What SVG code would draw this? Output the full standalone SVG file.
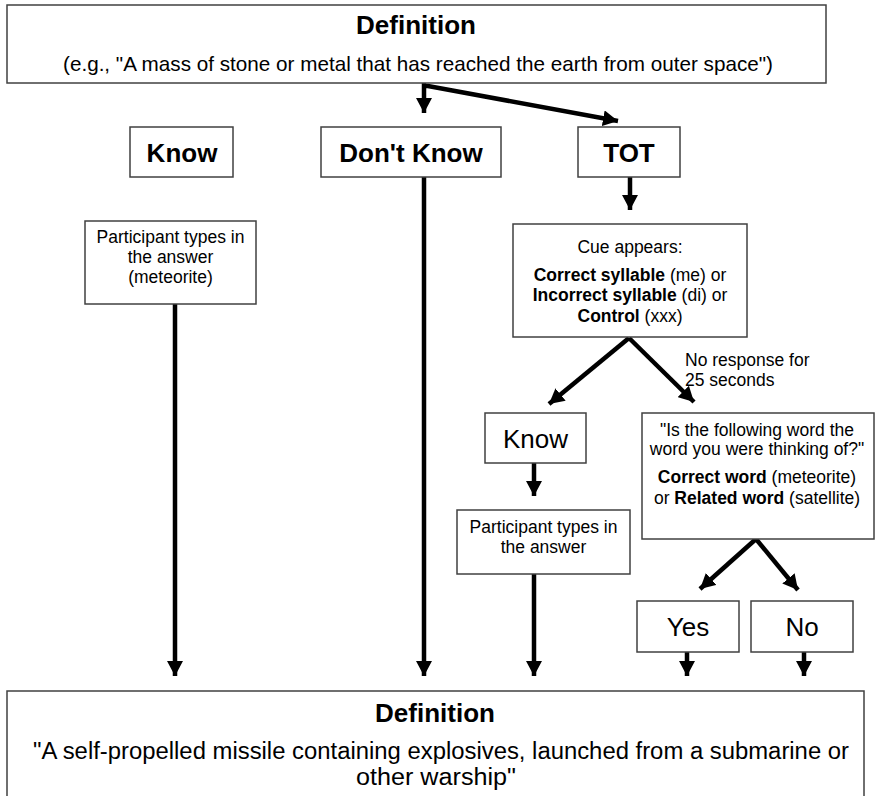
<svg xmlns="http://www.w3.org/2000/svg" width="876" height="796" viewBox="0 0 876 796">
<style>
.box{fill:#fff;stroke:#404040;stroke-width:1.5}
.t{font-family:"Liberation Sans",Arial,sans-serif;fill:#000;text-anchor:middle}
.h{font-size:26px;font-weight:bold}
.m{font-size:26px}
.s{font-size:17.5px}
.l{font-size:20.6px}
.xl{font-size:23px}
.b{font-weight:bold}
.c{stroke:#000;stroke-width:4.5;fill:none}
</style>
<defs>
<marker id="ah" markerUnits="userSpaceOnUse" markerWidth="16" markerHeight="16" viewBox="0 0 16 16" refX="15" refY="8" orient="auto">
<path d="M0,0 L15,8 L0,16 Z" fill="#000"/>
</marker>
</defs>
<rect width="876" height="796" fill="#fff"/>
<g id="connectors">
<path class="c" d="M424,83 V113" marker-end="url(#ah)"/>
<path class="c" d="M424,86 H428 L618,121" marker-end="url(#ah)"/>
<path class="c" d="M630,177 V210" marker-end="url(#ah)"/>
<path class="c" d="M175,304 V676" marker-end="url(#ah)"/>
<path class="c" d="M424,177 V676" marker-end="url(#ah)"/>
<path class="c" d="M629,338 L549,404" marker-end="url(#ah)"/>
<path class="c" d="M629,338 L694,402" marker-end="url(#ah)"/>
<path class="c" d="M534,463 V496" marker-end="url(#ah)"/>
<path class="c" d="M534,574 V676" marker-end="url(#ah)"/>
<path class="c" d="M756,539 L700,589" marker-end="url(#ah)"/>
<path class="c" d="M756,539 L798,590" marker-end="url(#ah)"/>
<path class="c" d="M687,652 V676" marker-end="url(#ah)"/>
<path class="c" d="M804,652 V676" marker-end="url(#ah)"/>
</g>
<g id="def-top">
<rect class="box" x="7" y="5" width="819" height="78"/>
<text class="t h" x="416" y="34">Definition</text>
<text class="t l" x="418" y="71" textLength="710" lengthAdjust="spacingAndGlyphs">(e.g., "A mass of stone or metal that has reached the earth from outer space")</text>
</g>
<g id="know">
<rect class="box" x="130" y="127" width="103" height="50"/>
<text class="t h" x="182" y="162">Know</text>
</g>
<g id="dontknow">
<rect class="box" x="321" y="127" width="180" height="50"/>
<text class="t h" x="411" y="162">Don't Know</text>
</g>
<g id="tot">
<rect class="box" x="578" y="127" width="102" height="50"/>
<text class="t h" x="629" y="162">TOT</text>
</g>
<g id="participant1">
<rect class="box" x="85" y="221" width="171" height="83"/>
<text class="t s" x="170.5" y="243">Participant types in</text>
<text class="t s" x="170.5" y="263">the answer</text>
<text class="t s" x="170.5" y="283">(meteorite)</text>
</g>
<g id="cue">
<rect class="box" x="513" y="224" width="234" height="113"/>
<text class="t s" x="630" y="253">Cue appears:</text>
<text class="t s" x="630" y="281"><tspan class="b">Correct syllable</tspan> (me) or</text>
<text class="t s" x="630" y="301"><tspan class="b">Incorrect syllable</tspan> (di) or</text>
<text class="t s" x="630" y="322"><tspan class="b">Control</tspan> (xxx)</text>
</g>
<g id="noresponse-label">
<text class="t s" x="685" y="366" style="text-anchor:start">No response for</text>
<text class="t s" x="685" y="386" style="text-anchor:start">25 seconds</text>
</g>
<g id="know2">
<rect class="box" x="485" y="413" width="101" height="50"/>
<text class="t m" x="535.5" y="448">Know</text>
</g>
<g id="question">
<rect class="box" x="642" y="413" width="232" height="126"/>
<text class="t s" x="757" y="436">"Is the following word the</text>
<text class="t s" x="757" y="455">word you were thinking of?"</text>
<text class="t s" x="757" y="483"><tspan class="b">Correct word</tspan> (meteorite)</text>
<text class="t s" x="757" y="504">or <tspan class="b">Related word</tspan> (satellite)</text>
</g>
<g id="participant2">
<rect class="box" x="457" y="510" width="173" height="64"/>
<text class="t s" x="543.5" y="533">Participant types in</text>
<text class="t s" x="543.5" y="553">the answer</text>
</g>
<g id="yes">
<rect class="box" x="637" y="601" width="102" height="51"/>
<text class="t m" x="688" y="636">Yes</text>
</g>
<g id="no">
<rect class="box" x="751" y="601" width="102" height="51"/>
<text class="t m" x="802" y="636">No</text>
</g>
<g id="def-bottom">
<rect class="box" x="7" y="691" width="857" height="120"/>
<text class="t h" x="435" y="722">Definition</text>
<text class="t xl" x="441" y="759" textLength="816" lengthAdjust="spacingAndGlyphs">"A self-propelled missile containing explosives, launched from a submarine or</text>
<text class="t xl" x="436" y="785" textLength="160" lengthAdjust="spacingAndGlyphs">other warship"</text>
</g>
</svg>
